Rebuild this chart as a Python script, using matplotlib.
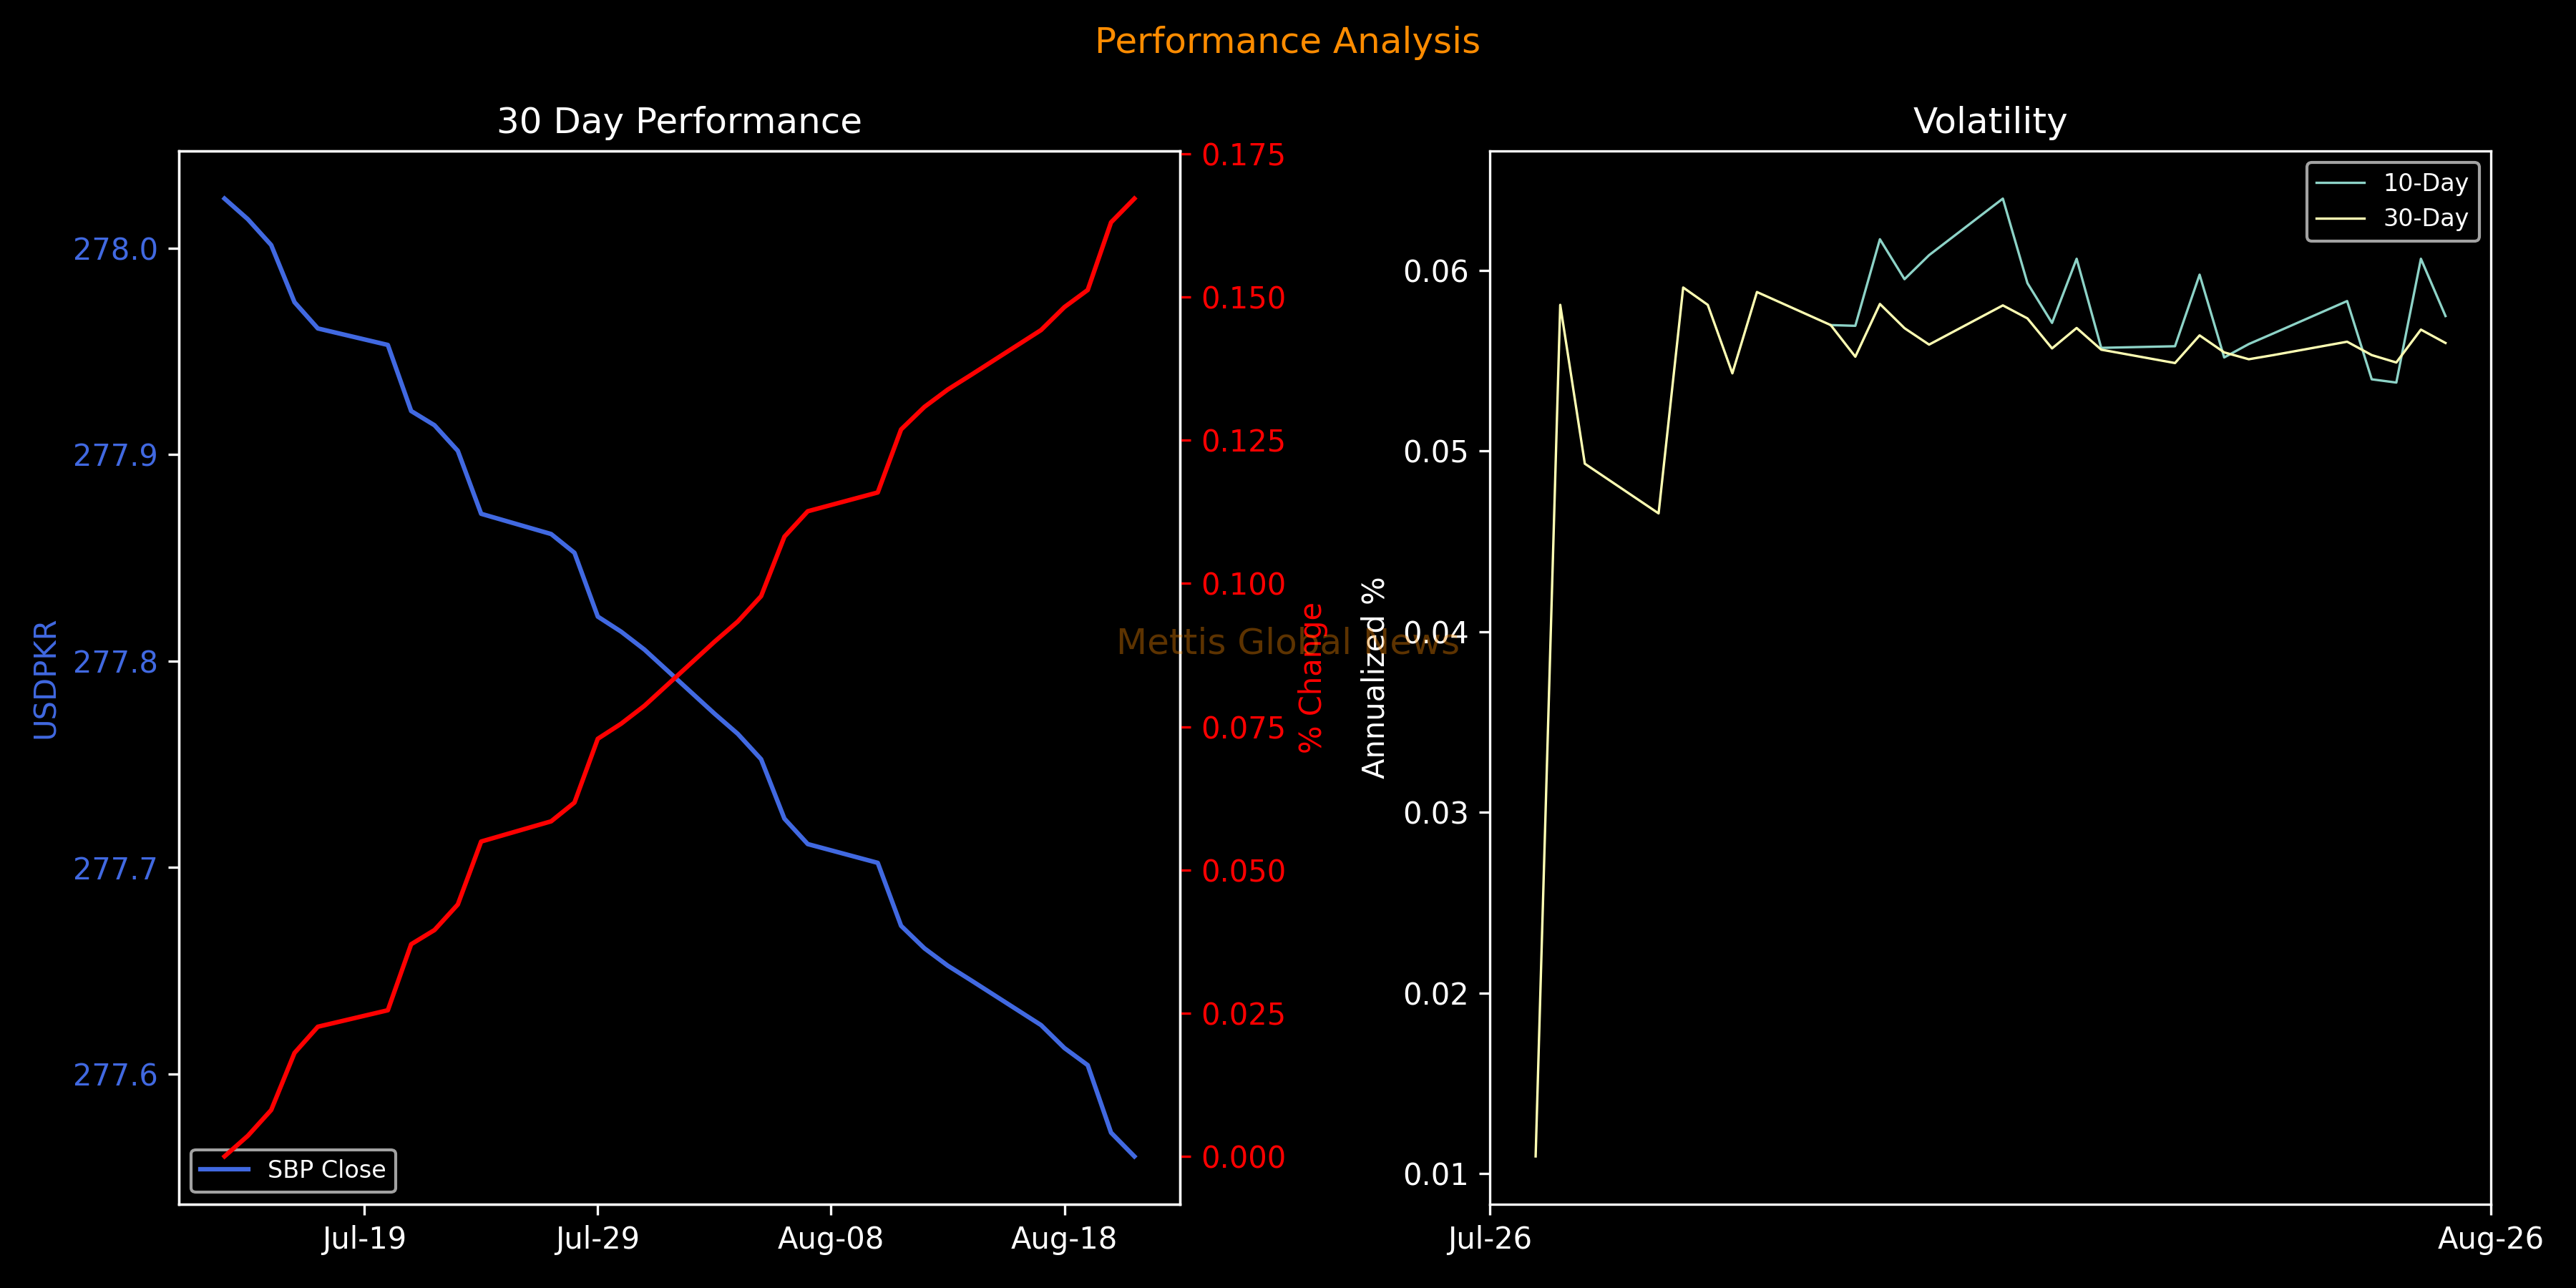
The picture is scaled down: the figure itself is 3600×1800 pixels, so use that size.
import numpy as np
import pandas as pd
import matplotlib
matplotlib.use('Agg')
import matplotlib.pyplot as plt
import matplotlib.dates as mdates

plt.style.use('dark_background')

# SBP closing rate, last 30 business days
close_dates = pd.bdate_range('2026-07-13', '2026-08-21')
sbp_close = [278.0240, 278.0140, 278.0015, 277.9738, 277.9611,
             277.9531, 277.9211, 277.9142, 277.9018, 277.8713,
             277.8615, 277.8524, 277.8215, 277.8142, 277.8055,
             277.7745, 277.7647, 277.7524, 277.7236, 277.7113,
             277.7022, 277.6717, 277.6608, 277.6524, 277.6453,
             277.6236, 277.6125, 277.6042, 277.5715, 277.5600]

# annualized volatility
vol_dates = pd.bdate_range('2026-07-15', '2026-08-21')
vol_10 = [np.nan, np.nan, np.nan, np.nan, np.nan, np.nan, np.nan, np.nan,
          0.05696, 0.05692, 0.06171, 0.05950, 0.06083,
          0.06396, 0.05928, 0.05708, 0.06063, 0.05570,
          0.05579, 0.05975, 0.05517, 0.05591, 0.05650,
          0.05829, 0.05396, 0.05378, 0.06063, 0.05746]
vol_30 = [0.01096, 0.05808, 0.04929,
          0.04654, 0.05904, 0.05808, 0.05429, 0.05879,
          0.05696, 0.05521, 0.05813, 0.05679, 0.05588,
          0.05805, 0.05733, 0.05567, 0.05680, 0.05560,
          0.05486, 0.05639, 0.05545, 0.05507, 0.05530,
          0.05604, 0.05530, 0.05489, 0.05671, 0.05597]

perf_ticks = ['2026-07-19', '2026-07-29', '2026-08-08', '2026-08-18']

close = pd.Series(sbp_close, index=close_dates)
# PKR move vs USD since start of window
pct_change = (close.iloc[0] / close - 1) * 100

fig, (ax1, ax3) = plt.subplots(1, 2, figsize=(12, 6), dpi=300)
fig.subplots_adjust(left=0.0695, right=0.967, bottom=0.065, top=0.883, wspace=0.31)

# 30 day performance
ax1.plot(close.index, close.values, color='royalblue', lw=1.5, label='SBP Close')
ax1.set_ylabel('USDPKR', color='royalblue')
ax1.tick_params(axis='y', labelcolor='royalblue')
ax1.set_title('30 Day Performance')
ax1.legend(loc='lower left', fontsize=8)

ax2 = ax1.twinx()
ax2.plot(pct_change.index, pct_change.values, color='red', lw=1.5)
ax2.set_ylabel('% Change', color='red')
ax2.tick_params(axis='y', colors='red')

ax1.set_xticks(pd.to_datetime(perf_ticks))
ax1.xaxis.set_major_formatter(mdates.DateFormatter('%b-%d'))

# volatility
ax3.plot(vol_dates, vol_10, lw=0.8, label='10-Day')
ax3.plot(vol_dates, vol_30, lw=0.8, label='30-Day')
ax3.set_title('Volatility')
ax3.set_ylabel('Annualized %')
ax3.legend(loc='upper right', fontsize=8)
x0, x1 = ax3.get_xlim()
ax3.set_xticks([x0, x1])
ax3.set_xlim(x0, x1)
ax3.xaxis.set_major_formatter(mdates.DateFormatter('%b-%y'))

fig.suptitle('Performance Analysis', color='darkorange', fontsize=12)
fig.text(0.5, 0.5, 'Mettis Global News', fontsize=12, color='darkorange',
         alpha=0.37, ha='center', va='center')

plt.savefig('out.png', dpi=300)
